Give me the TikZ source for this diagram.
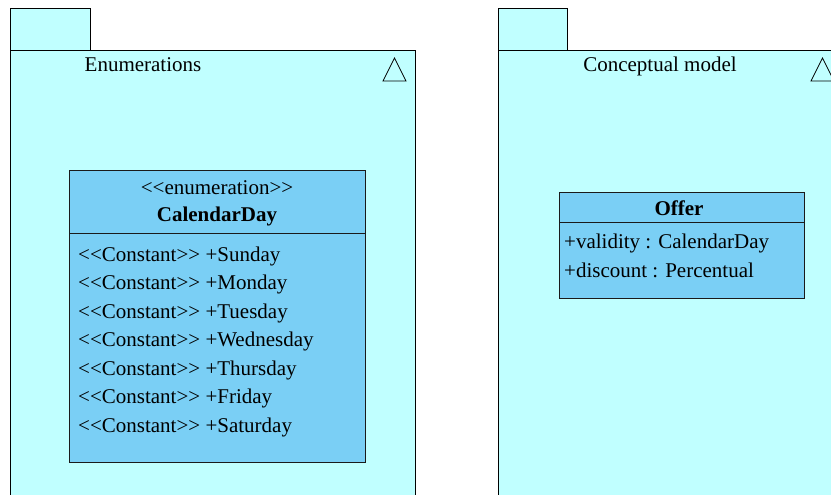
\documentclass[tikz,border=0pt]{standalone}
\usepackage{fontspec}
\setmainfont{Liberation Serif}[Ligatures=TeXOff]
\definecolor{pkgfill}{HTML}{C0FFFF}
\definecolor{clsfill}{HTML}{7ACFF5}
\definecolor{clsline}{HTML}{1A1A1A}
\tikzset{
  pkg/.style={draw=black, fill=pkgfill, line width=0.9pt},
  cls/.style={draw=clsline, fill=clsfill, line width=0.9pt},
  txt/.style={inner sep=0pt, anchor=base, font=\fontsize{21}{24}\selectfont},
  btxt/.style={inner sep=0pt, anchor=base, font=\fontsize{21}{24}\selectfont\bfseries},
  item/.style={txt, anchor=base west},
  tri/.style={draw=black, line width=0.8pt, fill=none}
}
\begin{document}
\begin{tikzpicture}[x=1pt,y=-1pt]
\useasboundingbox (0,0) rectangle (831,495);
\clip (0,0) rectangle (831,495);
% left package
\draw[pkg] (10,8) rectangle (90,50);
\draw[pkg] (10,50) rectangle (415,510);
\node[txt] (enumtitle) at (143,72) {Enumerations};
\draw[tri] (383,81) -- (394.5,58) -- (406,81) -- cycle;
% right package
\draw[pkg] (498,8) rectangle (567,50);
\draw[pkg] (498,50) rectangle (850,510);
\node[txt] (cmtitle) at (660,72) {Conceptual model};
\draw[tri] (811,81) -- (822.5,58) -- (834,81) -- cycle;
% enumeration class
\draw[cls] (69,170) rectangle (365,462);
\draw[clsline, line width=0.9pt] (69,233) -- (365,233);
\node[txt] (stereo) at (217,194.5) {<<enumeration>>};
\node[btxt] (cdname) at (217,221) {CalendarDay};
\node[item] (sun) at (78,261) {<<Constant>> +Sunday};
\node[item] (mon) at (78,289.5) {<<Constant>> +Monday};
\node[item] (tue) at (78,318) {<<Constant>> +Tuesday};
\node[item] (wed) at (78,346.5) {<<Constant>> +Wednesday};
\node[item] (thu) at (78,375) {<<Constant>> +Thursday};
\node[item] (fri) at (78,403.5) {<<Constant>> +Friday};
\node[item] (sat) at (78,432) {<<Constant>> +Saturday};
% Offer class
\draw[cls] (559,192) rectangle (804,298);
\draw[clsline, line width=0.9pt] (559,222) -- (804,222);
\node[btxt] (offer) at (679,215) {Offer};
\node[item] (validity) at (564,248) {+validity : CalendarDay};
\node[item] (discount) at (564,277) {+discount : Percentual};
\end{tikzpicture}
\end{document}
